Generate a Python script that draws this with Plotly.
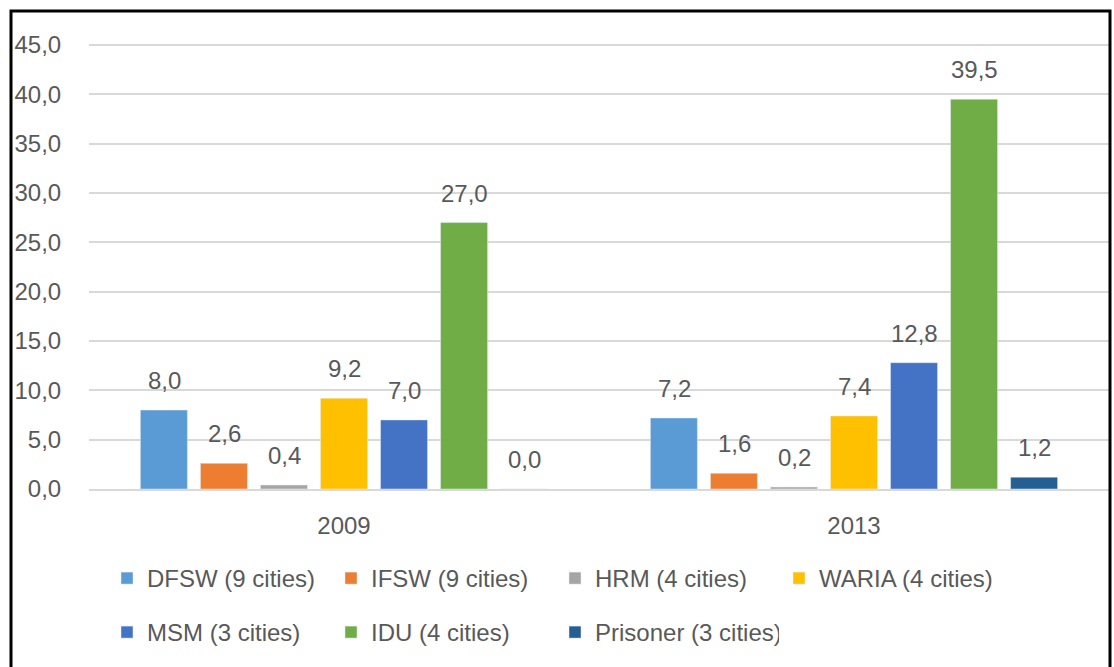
import plotly.graph_objects as go

years = ["2009", "2013"]
series_names = ["DFSW (9 cities)", "IFSW (9 cities)", "HRM (4 cities)", "WARIA (4 cities)",
                "MSM (3 cities)", "IDU (4 cities)", "Prisoner (3 cities)"]
values_2009 = [8.0, 2.6, 0.4, 9.2, 7.0, 27.0, 0.0]
values_2013 = [7.2, 1.6, 0.2, 7.4, 12.8, 39.5, 1.2]
colors = ["#5B9BD5", "#ED7D31", "#A5A5A5", "#FFC000", "#4472C4", "#70AD47", "#255E91"]
y_ticks = [0, 5, 10, 15, 20, 25, 30, 35, 40, 45]

FONT = "Liberation Sans"
TXT = "#595959"

def fmt(v):
    return f"{v:.1f}".replace(".", ",")

fig = go.Figure()
n = len(series_names)
for i, name in enumerate(series_names):
    fig.add_trace(go.Bar(
        x=years, y=[values_2009[i], values_2013[i]], name=name,
        marker_color=colors[i],
        legend="legend" if i < 4 else "legend2",
    ))

# data labels (annotations placed on the category index, shifted per series)
step_px = 60
annotations = []
for i in range(n):
    for j, vals in enumerate([values_2009, values_2013]):
        v = vals[i]
        annotations.append(dict(
            x=j, y=v, xref="x", yref="y", text=fmt(v),
            showarrow=False, xshift=(i - (n - 1) / 2) * step_px, yanchor="bottom", yshift=14,
            font=dict(family=FONT, size=24, color=TXT),
        ))

W, H = 1114, 667
ymax = 45.3
ml, mr, mb = 89, 5, 178
ph = round(ymax * 444 / 45)
mt = H - mb - ph
pw = W - ml - mr

def px_x(p):
    return (p - ml) / pw

def px_y(p):
    return (H - mb - p) / ph

legend_common = dict(orientation="h", x=px_x(107), xanchor="left", yanchor="top",
                     entrywidth=179, entrywidthmode="pixels", itemwidth=30,
                     font=dict(family=FONT, size=24, color=TXT), bgcolor="rgba(0,0,0,0)")

fig.update_layout(
    width=W, height=H,
    margin=dict(l=ml, r=mr, t=mt, b=mb, autoexpand=False),
    paper_bgcolor="white", plot_bgcolor="white",
    barmode="group", bargap=0.176, bargroupgap=0.217,
    font=dict(family=FONT, size=24, color=TXT),
    xaxis=dict(type="category", showgrid=False, showline=True, linecolor="#D9D9D9", linewidth=2,
               ticks="outside", ticklen=14, tickcolor="rgba(0,0,0,0)",
               tickfont=dict(size=24, color=TXT)),
    yaxis=dict(range=[0, ymax], tickmode="array", tickvals=y_ticks,
               ticktext=[fmt(t) for t in y_ticks], showgrid=True,
               gridcolor="#D9D9D9", gridwidth=2, zeroline=False, showline=False,
               ticks="outside", ticklen=22, tickcolor="rgba(0,0,0,0)",
               tickfont=dict(size=24, color=TXT)),
    legend=dict(legend_common, y=px_y(556)),
    legend2=dict(legend_common, y=px_y(610)),
    annotations=annotations,
    shapes=[dict(type="rect", xref="paper", yref="paper",
                 x0=px_x(11), x1=px_x(1110), y0=px_y(720), y1=px_y(11),
                 line=dict(color="black", width=3), fillcolor="rgba(0,0,0,0)", layer="above")],
)

fig.write_html("out.html", post_script="document.body.style.margin='0';",
               config={"displayModeBar": False})
